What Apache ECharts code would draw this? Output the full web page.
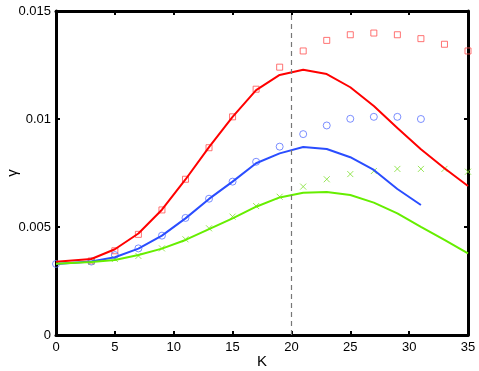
<!DOCTYPE html>
<html>
<head>
<meta charset="utf-8">
<script src="https://cdn.jsdelivr.net/npm/echarts@6/dist/echarts.min.js"></script>
<style>
  html, body { margin: 0; padding: 0; background: #fff; }
  #chart { width: 479px; height: 371px; }
</style>
</head>
<body>
<div id="chart"></div>
<script>
// theory curves
const kLine = [0, 3, 5, 7, 9, 11, 13, 15, 17, 19, 21, 23, 25, 27, 29, 31, 33, 35]
const redLine = [0.00339, 0.00352, 0.00397, 0.0047, 0.0058, 0.0072, 0.0087, 0.0101, 0.01134, 0.01204, 0.01228, 0.01208, 0.01147, 0.0106, 0.00958, 0.0086, 0.00772, 0.0069]
const blueLine = [0.00329, 0.0034, 0.0036, 0.004, 0.0046, 0.0054, 0.0063, 0.0071, 0.00795, 0.00841, 0.0087, 0.00861, 0.00823, 0.00764, 0.00676, 0.00602]
const greenLine = [0.0033, 0.00338, 0.00347, 0.0037, 0.004, 0.0044, 0.0049, 0.0054, 0.00594, 0.00637, 0.00659, 0.00662, 0.00648, 0.00613, 0.00563, 0.00501, 0.0044, 0.00378]

// simulation points
const kRedPts = [3, 5, 7, 9, 11, 13, 15, 17, 19, 21, 23, 25, 27, 29, 31, 33, 35]
const redPts = [0.00343, 0.0039, 0.00466, 0.00579, 0.00721, 0.00867, 0.0101, 0.01138, 0.0124, 0.01315, 0.01364, 0.0139, 0.01398, 0.0139, 0.01372, 0.01346, 0.01315]
const kBluePts = [0, 3, 5, 7, 9, 11, 13, 15, 17, 19, 21, 23, 25, 27, 29, 31]
const bluePts = [0.00329, 0.0034, 0.0037, 0.00401, 0.0046, 0.00542, 0.00631, 0.0071, 0.00802, 0.00872, 0.0093, 0.0097, 0.01001, 0.0101, 0.0101, 0.01]
const kGreenPts = [3, 5, 7, 9, 11, 13, 15, 17, 19, 21, 23, 25, 27, 29, 31, 33, 35]
const greenPts = [0.00338, 0.00352, 0.00366, 0.00401, 0.00443, 0.00494, 0.00548, 0.00597, 0.0064, 0.00687, 0.00721, 0.00745, 0.00759, 0.00769, 0.00769, 0.00769, 0.00756]

const dividerK = 20
const xTicks = { min: 0, max: 35, interval: 5 }
const yTicks = { min: 0, max: 0.015, interval: 0.005 }

function pairs(xs, ys) {
  return ys.map((y, i) => [xs[i], y])
}

const font = 'Liberation Sans, Arial, sans-serif'
const axisLine = { show: true, onZero: false, lineStyle: { color: '#000', width: 3 } }
const tick = { show: true, inside: true, length: 4, lineStyle: { color: '#000', width: 2 } }

const chart = echarts.init(document.getElementById('chart'))
chart.setOption({
  animation: false,
  grid: { left: 56, right: 11, top: 11, bottom: 36, containLabel: false, outerBoundsMode: 'none' },
  xAxis: [
    {
      type: 'value',
      ...xTicks,
      name: 'K',
      nameLocation: 'middle',
      nameGap: 19,
      nameMoveOverlap: false,
      nameTextStyle: { fontFamily: font, fontSize: 15, color: '#000' },
      axisLine: axisLine,
      axisTick: tick,
      axisLabel: { fontFamily: font, fontSize: 13, color: '#000', margin: 6 },
      splitLine: { show: false }
    },
    {
      type: 'value',
      position: 'top',
      ...xTicks,
      axisLine: axisLine,
      axisTick: tick,
      axisLabel: { show: false },
      splitLine: { show: false }
    }
  ],
  yAxis: [
    {
      type: 'value',
      ...yTicks,
      name: 'γ',
      nameLocation: 'middle',
      nameGap: 36,
      nameMoveOverlap: false,
      nameTextStyle: { fontFamily: font, fontSize: 15, color: '#000' },
      axisLine: axisLine,
      axisTick: tick,
      axisLabel: { fontFamily: font, fontSize: 13, color: '#000', margin: 5 },
      splitLine: { show: false }
    },
    {
      type: 'value',
      position: 'right',
      ...yTicks,
      axisLine: axisLine,
      axisTick: tick,
      axisLabel: { show: false },
      splitLine: { show: false }
    }
  ],
  series: [
    {
      type: 'scatter',
      data: pairs(kRedPts, redPts),
      symbol: 'rect',
      symbolSize: 6,
      itemStyle: { color: 'transparent', borderColor: '#ff5050', borderWidth: 1 }
    },
    {
      type: 'scatter',
      data: pairs(kBluePts, bluePts),
      symbol: 'circle',
      symbolSize: 7,
      itemStyle: { color: 'transparent', borderColor: '#5a72ff', borderWidth: 1 }
    },
    {
      type: 'scatter',
      data: pairs(kGreenPts, greenPts),
      symbol: 'path://M0,0L10,10M10,0L0,10',
      symbolSize: 6,
      itemStyle: { color: 'transparent', borderColor: '#7ee030', borderWidth: 1 }
    },
    {
      type: 'line',
      data: pairs(kLine, redLine),
      showSymbol: false,
      lineStyle: { color: '#ff0000', width: 2 },
      markLine: {
        silent: true,
        symbol: 'none',
        label: { show: false },
        lineStyle: { color: '#777', type: [5, 4], width: 1.2 },
        data: [{ xAxis: dividerK }]
      }
    },
    {
      type: 'line',
      data: pairs(kLine, blueLine),
      showSymbol: false,
      lineStyle: { color: '#2a4dff', width: 2 }
    },
    {
      type: 'line',
      data: pairs(kLine, greenLine),
      showSymbol: false,
      lineStyle: { color: '#66ee00', width: 2 }
    }
  ]
})
</script>
</body>
</html>
